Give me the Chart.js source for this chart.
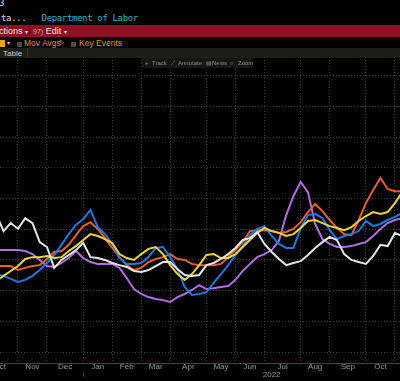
<!DOCTYPE html>
<html lang="en">
<head>
<meta charset="UTF-8">
<title>Department of Labor</title>
<script src="https://cdn.jsdelivr.net/npm/chart.js"></script>
<style>
  body { margin:0; background:#000; width:400px; height:381px; overflow:hidden; position:relative; font-family:'Liberation Sans', Arial, sans-serif; }
  .t { position:absolute; white-space:pre; }
  .mono { font-family:'DejaVu Sans Mono', monospace; font-size:9px; letter-spacing:-0.35px; line-height:10px; }
  #redbar { position:absolute; left:0; top:25px; width:400px; height:12px; background:#8b1223; }
  #tabbar { position:absolute; left:0; top:48px; width:400px; height:10px; background:#1d1d19; }
  .box { position:absolute; width:5px; height:5px; background:#4a4a4a; }
  #tools { position:absolute; left:142px; top:58px; width:111px; height:10px; background:#161616; z-index:2; }
  #tools span { position:absolute; top:1px; font-size:6px; line-height:8px; color:#8a8a8a; white-space:pre; }
  canvas { position:absolute; left:0; top:57px; }
</style>
</head>
<body>

<div class="t mono" style="left:-1px; top:-2px; color:#dcdcdc;">3</div>
<div class="t mono" style="left:1px; top:13px; color:#dcdcdc;">ta...   <span style="color:#3cb4c6;">Department of Labor</span></div>

<div id="redbar">
  <div class="t" style="left:-1px; top:1px; font-size:9px; line-height:10px; color:#f0e0e2;">ctions <span style="font-size:6px;">▾</span></div>
  <div class="t" style="left:29px; top:0; width:1px; height:12px; background:#5e0c18;"></div>
  <div class="t" style="left:33px; top:1px; font-size:9px; line-height:10px; color:#f0e0e2;"><span style="color:#d99aa4; font-size:7px;">97)</span> Edit <span style="font-size:6px;">▾</span></div>
</div>

<div class="t" style="left:0; top:40px; width:5px; height:7px; background:#f2a11f;"></div>
<div class="t" style="left:7px; top:39px; font-size:6px; line-height:8px; color:#ccc;">▾</div>
<div class="box" style="left:17px; top:42px;"></div>
<div class="t" style="left:24px; top:38px; font-size:8.5px; line-height:10px; color:#e3922c;">Mov Avgs</div>
<div class="t" style="left:59px; top:38px; font-size:7px; line-height:10px; color:#9a9a9a;">✎</div>
<div class="box" style="left:71px; top:42px;"></div>
<div class="t" style="left:79px; top:38px; font-size:8.5px; line-height:10px; color:#e3922c;">Key Events</div>

<div id="tabbar">
  <div class="t" style="left:3px; top:1px; font-size:8px; line-height:9px; color:#cfcfcf;">Table</div>
  <div class="t" style="left:27px; top:0; width:1px; height:10px; background:#3a3a36;"></div>
</div>

<div id="tools">
  <span style="left:3px;">+</span><span style="left:10px;">Track</span>
  <span style="left:29px;">⟋</span><span style="left:36px;">Annotate</span>
  <span style="left:64px;">▤</span><span style="left:70px;">News</span>
  <span style="left:88px;">⌕</span><span style="left:96px;">Zoom</span>
</div>

<canvas id="grafico" width="400" height="340"></canvas>

<script>
// weekly observations (Fridays), index 0 = 15 Oct 2021
const monthNames = ['Oct', 'Nov', 'Dec', 'Jan', 'Feb', 'Mar', 'Apr', 'May', 'Jun', 'Jul', 'Aug', 'Sep', 'Oct'];
// week index where each month begins (Oct 2021 ... Nov 2022)
const monthStart = [-2, 3, 7, 12, 16, 20, 24, 29, 33, 37, 42, 46, 51, 55];
const yearLabel = '2022';
const yearStartWeek = 12;
const yearLabelWeek = 38;

const white  = [45.0,39.4,42.0,40.1,43.6,42.0,35.8,34.2,27.4,30.0, 31.6,33.2,35.5,30.9,30.6,30.0,29.0,28.3,27.7,26.4,
                26.1,26.7,28.0,29.3,29.3,27.0,25.1,24.8,25.1,28.3, 29.0,30.3,31.9,33.9,36.5,37.1,39.1,35.2,32.6,30.3,
                28.3,29.0,29.6,31.6,33.9,35.8,37.5,36.5,31.9,30.0, 29.3,28.7,31.3,34.9,34.5,38.8,37.8];
const blue   = [25.4,24.8,23.8,22.8,23.5,24.8,26.7,29.0,31.6,34.9, 38.4,41.4,43.3,46.3,40.7,38.4,35.2,30.6,28.7,28.7,
                29.0,30.9,33.9,34.2,30.9,27.0,21.2,18.6,18.9,19.5, 22.5,25.4,28.3,31.6,34.5,38.1,40.1,41.0,37.8,35.2,
                33.9,33.9,40.4,44.6,45.0,43.6,39.7,36.8,37.8,38.4, 39.4,42.7,41.0,41.7,43.0,44.0,45.3];
const orange = [28.0,28.0,28.0,26.7,27.4,28.0,28.3,30.3,32.6,32.9, 34.9,38.1,41.0,42.3,40.1,37.1,33.9,30.9,28.3,26.7,
                27.4,29.3,30.3,30.9,31.9,30.3,30.0,28.7,28.3,28.3, 28.3,28.7,30.9,33.2,35.8,39.4,39.7,39.7,39.4,38.8,
                39.1,40.1,42.3,45.6,48.2,45.9,43.0,40.4,38.4,38.1, 43.0,48.5,52.8,56.7,53.1,52.4,52.4];
const yellow = [23.1,24.8,26.4,28.0,30.3,30.9,30.9,31.3,30.6,30.9, 32.9,34.5,36.5,38.4,37.8,36.8,35.5,31.9,30.6,30.0,
                31.9,33.6,34.2,31.9,28.3,25.4,23.5,25.4,28.3,31.6, 31.9,30.6,30.6,31.9,34.2,36.5,38.8,40.4,39.4,38.8,
                37.8,38.4,40.4,42.7,43.0,42.0,41.0,40.4,39.7,40.7, 42.7,44.3,45.6,45.0,45.6,48.5,52.1];
const purple = [33.2,33.2,33.2,33.2,32.9,31.9,30.0,28.0,27.7,29.0, 30.6,32.9,30.6,29.3,28.7,28.7,28.7,27.4,24.1,20.5,
                18.9,17.9,17.3,16.9,16.3,17.9,18.9,20.2,21.8,20.5, 20.8,21.2,21.5,23.5,26.4,28.7,30.9,31.9,33.2,36.2,
                44.6,50.8,55.4,52.1,41.7,36.8,35.2,34.2,34.2,34.5, 35.2,35.8,37.8,40.1,42.0,43.0,43.6];

const xMin = 0.52, xMax = 55.7;
const yMin = -3.58, yMax = 96.1;
const yGrid = [0, 10, 20, 30, 40, 50, 60, 70, 80, 90];

// month labels sit midway between month starts
const monthMid = monthNames.map((m, i) => (monthStart[i] + monthStart[i + 1]) / 2);

function serie(valori, colore) {
    return {
        data: valori.map((v, i) => ({ x: i, y: v })),
        borderColor: colore,
        borderWidth: 2,
        pointRadius: 0,
        tension: 0,
        fill: false
    };
}

// fixed axis band heights so the plot ends exactly where the reference does
const fitH = (h) => (s) => { s.height = h; s.paddingLeft = 0; s.paddingRight = 0; };

const ctx = document.getElementById('grafico').getContext('2d');
new Chart(ctx, {
    type: 'line',
    data: {
        datasets: [
            serie(white, '#e6e6e6'),
            serie(yellow, '#e9d43c'),
            serie(blue, '#1f78e0'),
            serie(orange, '#e4602c'),
            serie(purple, '#b06ee0')
        ]
    },
    options: {
        responsive: false,
        animation: false,
        layout: { padding: { left: 0, right: 0, top: 0, bottom: 15 } },
        plugins: { legend: { display: false }, tooltip: { enabled: false } },
        scales: {
            x: {
                type: 'linear', min: xMin, max: xMax, weight: 0,
                afterBuildTicks: (s) => { s.ticks = monthStart.slice(1).map(v => ({ value: v })); },
                afterFit: fitH(0),
                ticks: { display: false },
                grid: { color: '#3a3a3a', drawTicks: false },
                border: { color: '#6e3326', width: 1, dash: [1, 2] }
            },
            xm: {
                type: 'linear', position: 'bottom', min: xMin, max: xMax, weight: 1,
                afterBuildTicks: (s) => { s.ticks = monthMid.map(v => ({ value: v })); },
                afterFit: fitH(9),
                grid: { display: false, drawTicks: false },
                border: { display: false },
                ticks: {
                    autoSkip: false, maxRotation: 0, padding: -1,
                    color: '#9a9a9a', font: { size: 8, family: 'Liberation Sans' },
                    callback: (v, i) => monthNames[i]
                }
            },
            xy: {
                type: 'linear', position: 'bottom', min: xMin, max: xMax, weight: 2,
                afterBuildTicks: (s) => { s.ticks = [yearStartWeek, yearLabelWeek].map(v => ({ value: v })); },
                afterFit: fitH(10),
                grid: {
                    drawOnChartArea: false, drawTicks: true, tickLength: 5,
                    color: (c) => c.tick && c.tick.value === yearStartWeek ? '#5a2a20' : 'rgba(0,0,0,0)'
                },
                border: { display: false },
                ticks: {
                    autoSkip: false, maxRotation: 0, padding: -6,
                    color: '#9a9a9a', font: { size: 8, lineHeight: 1, family: 'Liberation Sans' },
                    callback: (v) => v === yearLabelWeek ? yearLabel : ''
                }
            },
            y: {
                min: yMin, max: yMax,
                afterBuildTicks: (s) => { s.ticks = yGrid.map(v => ({ value: v })); },
                afterFit: (s) => { s.width = 0; },
                ticks: { display: false },
                grid: { color: '#3a3a3a', drawTicks: false },
                border: { display: false, dash: [1, 2] }
            }
        }
    }
});
</script>
</body>
</html>
